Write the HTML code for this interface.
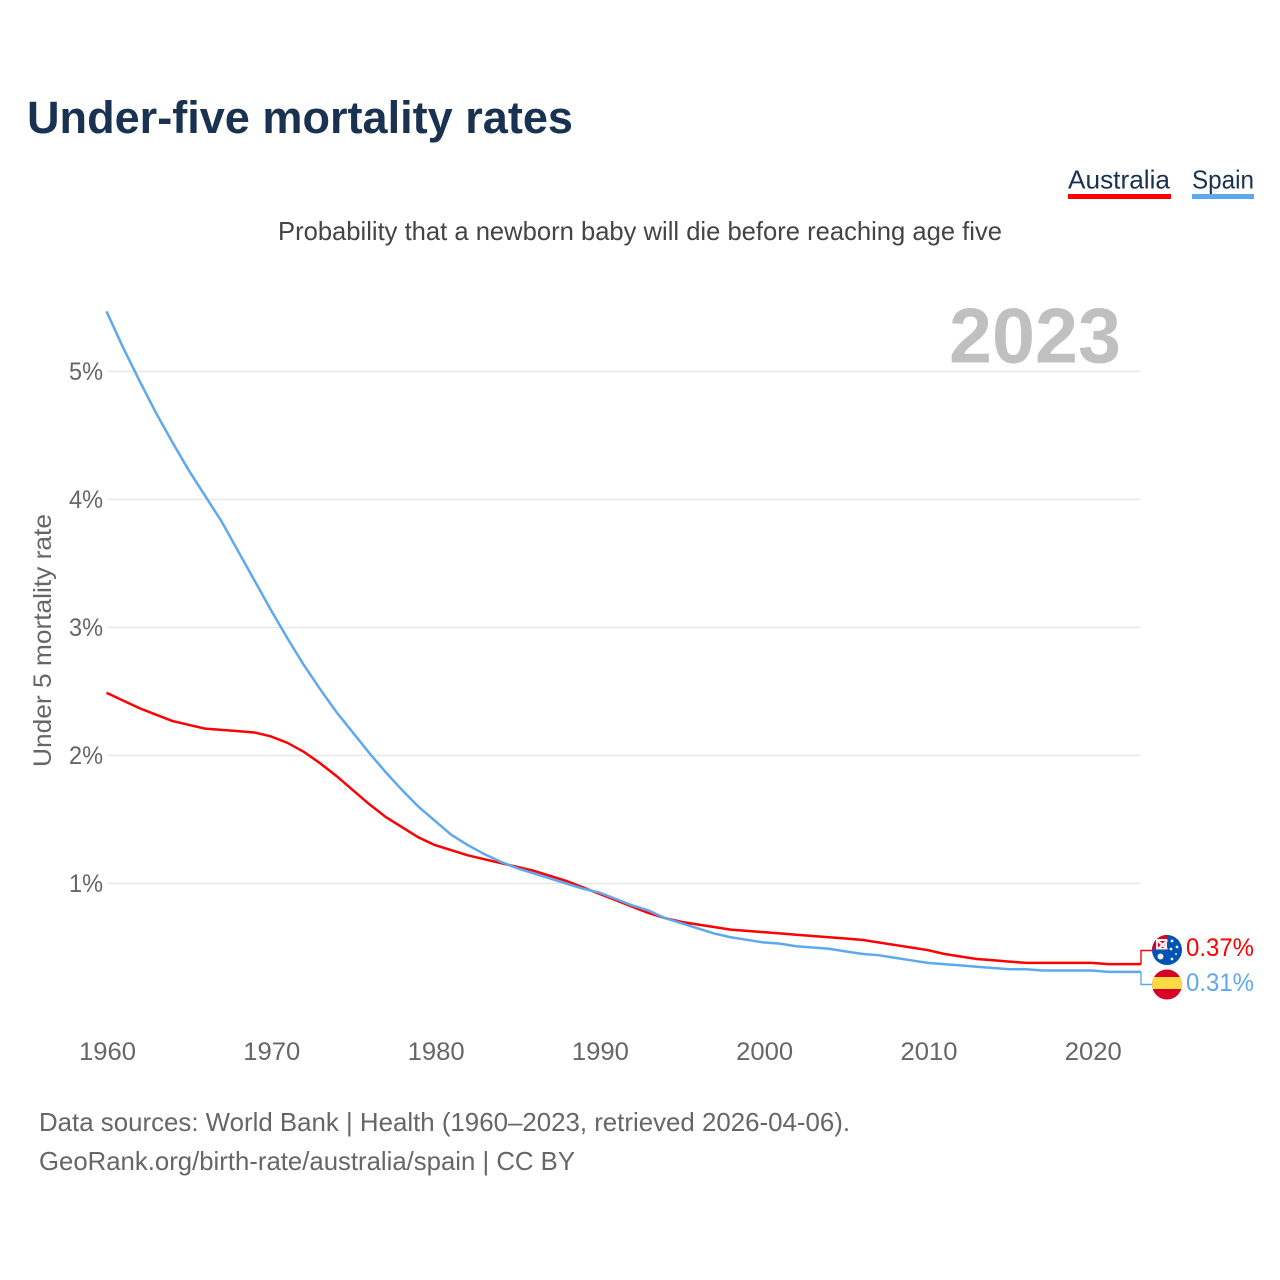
<!DOCTYPE html>
<html lang="en">
<head>
<meta charset="utf-8">
<title>Under-five mortality rates</title>
<style>
  html, body { margin: 0; padding: 0; background: #fff; }
  svg { display: block; font-family: "Liberation Sans", sans-serif; }
  .tick { font-size: 25px; fill: #666; }
  .foot { font-size: 26px; fill: #666; }
</style>
</head>
<body>
<svg id="chart" xmlns="http://www.w3.org/2000/svg" width="1280" height="1280" viewBox="0 0 1280 1280">
  <rect x="0" y="0" width="1280" height="1280" fill="#fff"/>
  <text x="27" y="133" font-size="45" font-weight="700" fill="#1a3252" textLength="546" lengthAdjust="spacingAndGlyphs">Under-five mortality rates</text>
  <g>
    <text x="1068" y="188.500" font-size="26" fill="#1a3252" textLength="102" lengthAdjust="spacingAndGlyphs">Australia</text>
    <rect x="1068" y="194" width="103" height="5" fill="#ff0000"/>
  </g>
  <g>
    <text x="1192" y="188.500" font-size="26" fill="#1a3252" textLength="62" lengthAdjust="spacingAndGlyphs">Spain</text>
    <rect x="1192" y="194" width="62" height="5" fill="#5fa8ee"/>
  </g>
  <text x="278" y="240" font-size="26" fill="#444" textLength="724" lengthAdjust="spacingAndGlyphs">Probability that a newborn baby will die before reaching age five</text>
  <g id="grid"></g>
  <text x="949" y="362.500" font-size="78" font-weight="700" fill="#c0c0c0" textLength="172" lengthAdjust="spacingAndGlyphs">2023</text>
  <g id="yticks"></g>
  <g id="xticks"></g>
  <text transform="translate(51 767) rotate(-90)" font-size="25" fill="#666" textLength="253" lengthAdjust="spacingAndGlyphs">Under 5 mortality rate</text>
  <g id="series"></g>
  <defs>
    <clipPath id="clip-au"><circle cx="1167" cy="950" r="15"/></clipPath>
    <clipPath id="clip-es"><circle cx="1167" cy="984.5" r="15"/></clipPath>
  </defs>
  <g clip-path="url(#clip-au)">
    <rect x="1152" y="935" width="30" height="30" fill="#0052b4"/>
    <rect x="1152" y="935" width="16" height="15" fill="#d80027"/>
    <path d="M1157 940 L1168 950 M1168 940 L1157 950" stroke="#f0f0f0" stroke-width="2.5"/>
    <rect x="1157" y="940" width="9" height="9" fill="none" stroke="#f0f0f0" stroke-width="2"/>
    <path d="M1152 950 L1168 950 L1168 935" fill="none" stroke="#0052b4" stroke-width="1"/>
    <circle cx="1160.500" cy="956.500" r="3" fill="#f0f0f0"/>
    <circle cx="1172" cy="959" r="1.400" fill="#f0f0f0"/>
    <circle cx="1172" cy="941" r="1.400" fill="#f0f0f0"/>
    <circle cx="1177" cy="947" r="1.400" fill="#f0f0f0"/>
    <circle cx="1171" cy="949" r="1.400" fill="#f0f0f0"/>
    <circle cx="1176" cy="954" r="1" fill="#f0f0f0"/>
  </g>
  <g clip-path="url(#clip-es)">
    <rect x="1152" y="969" width="30" height="31" fill="#d80027"/>
    <rect x="1152" y="977" width="30" height="12" fill="#ffda44"/>
  </g>
  <text x="1186" y="956" font-size="25" fill="#ff0000" textLength="68" lengthAdjust="spacingAndGlyphs">0.37%</text>
  <text x="1186" y="991" font-size="25" fill="#5fa8ee" textLength="68" lengthAdjust="spacingAndGlyphs">0.31%</text>
  <text class="foot" x="39" y="1131" textLength="811" lengthAdjust="spacingAndGlyphs">Data sources: World Bank | Health (1960–2023, retrieved 2026-04-06).</text>
  <text class="foot" x="39" y="1170" textLength="536" lengthAdjust="spacingAndGlyphs">GeoRank.org/birth-rate/australia/spain | CC BY</text>
</svg>
<script>
const startYear = 1960;
const yTickValues = [1, 2, 3, 4, 5];
const xTickValues = [1960, 1970, 1980, 1990, 2000, 2010, 2020];
const australiaValues = [2.49, 2.43, 2.37, 2.32, 2.27, 2.24, 2.21, 2.20, 2.19, 2.18, 2.15, 2.10, 2.03, 1.94, 1.84, 1.73, 1.62, 1.52, 1.44, 1.36, 1.30, 1.26, 1.22, 1.19, 1.16, 1.13, 1.10, 1.06, 1.02, 0.97, 0.92, 0.87, 0.82, 0.77, 0.73, 0.70, 0.68, 0.66, 0.64, 0.63, 0.62, 0.61, 0.60, 0.59, 0.58, 0.57, 0.56, 0.54, 0.52, 0.50, 0.48, 0.45, 0.43, 0.41, 0.40, 0.39, 0.38, 0.38, 0.38, 0.38, 0.38, 0.37, 0.37, 0.37];
const spainValues = [5.47, 5.19, 4.93, 4.68, 4.45, 4.23, 4.03, 3.83, 3.60, 3.37, 3.14, 2.92, 2.71, 2.52, 2.34, 2.18, 2.02, 1.87, 1.73, 1.60, 1.49, 1.38, 1.30, 1.23, 1.17, 1.12, 1.08, 1.04, 1.00, 0.96, 0.93, 0.88, 0.83, 0.79, 0.73, 0.69, 0.65, 0.61, 0.58, 0.56, 0.54, 0.53, 0.51, 0.50, 0.49, 0.47, 0.45, 0.44, 0.42, 0.40, 0.38, 0.37, 0.36, 0.35, 0.34, 0.33, 0.33, 0.32, 0.32, 0.32, 0.32, 0.31, 0.31, 0.31];

const NS = 'http://www.w3.org/2000/svg';
const xScale = function (year) { return 106.5 + (year - 1960) * (1141 - 106.5) / 63; };
const xTickScale = function (year) { return 107.5 + (year - 1960) * 16.43; };
const yScale = function (pct) { return 1011.5 - pct * 128; };

function make(tag, parent) {
  const el = document.createElementNS(NS, tag);
  parent.appendChild(el);
  return el;
}

const gridGroup = document.getElementById('grid');
const yGroup = document.getElementById('yticks');
yTickValues.forEach(function (v) {
  const line = make('line', gridGroup);
  
  
  line.setAttribute('x1', 107);
  line.setAttribute('x2', 1141);
  line.setAttribute('y1', yScale(v));
  line.setAttribute('y2', yScale(v));
  line.setAttribute('stroke', '#e8e8e8');
  line.setAttribute('stroke-width', 1.4);
  const label = make('text', yGroup);
  
  
  label.setAttribute('class', 'tick');
  label.setAttribute('x', 69);
  label.setAttribute('y', yScale(v) + 8.5);
  label.setAttribute('textLength', 34);
  label.setAttribute('lengthAdjust', 'spacingAndGlyphs');
  label.textContent = v + '%';
});

const xGroup = document.getElementById('xticks');
xTickValues.forEach(function (year) {
  const label = make('text', xGroup);
  
  
  label.setAttribute('class', 'tick');
  label.setAttribute('x', xTickScale(year) - 28.5);
  label.setAttribute('y', 1060);
  label.setAttribute('textLength', 57);
  label.setAttribute('lengthAdjust', 'spacingAndGlyphs');
  label.textContent = year;
});

function linePath(values) {
  return values.map(function (v, i) {
    return (i ? 'L' : 'M') + xScale(startYear + i).toFixed(2) + ' ' + yScale(v).toFixed(2);
  }).join(' ');
}

const seriesGroup = document.getElementById('series');

const australiaLine = make('path', seriesGroup);


australiaLine.setAttribute('d', linePath(australiaValues));
australiaLine.setAttribute('fill', 'none');
australiaLine.setAttribute('stroke', '#ff0000');
australiaLine.setAttribute('stroke-width', 2.5);
const spainLine = make('path', seriesGroup);


spainLine.setAttribute('d', linePath(spainValues));
spainLine.setAttribute('fill', 'none');
spainLine.setAttribute('stroke', '#5fa8ee');
spainLine.setAttribute('stroke-width', 2.5);

const lastYear = startYear + australiaValues.length - 1;
const auLeader = make('path', seriesGroup);


auLeader.setAttribute('d', 'M' + xScale(lastYear) + ' ' + yScale(australiaValues[australiaValues.length - 1]) + ' V950.5 H1152');
auLeader.setAttribute('fill', 'none');
auLeader.setAttribute('stroke', '#ff0000');
auLeader.setAttribute('stroke-width', 1.4);
const esLeader = make('path', seriesGroup);


esLeader.setAttribute('d', 'M' + xScale(lastYear) + ' ' + yScale(spainValues[spainValues.length - 1]) + ' V984.5 H1152');
esLeader.setAttribute('fill', 'none');
esLeader.setAttribute('stroke', '#5fa8ee');
esLeader.setAttribute('stroke-width', 1.4);
</script>
</body>
</html>
